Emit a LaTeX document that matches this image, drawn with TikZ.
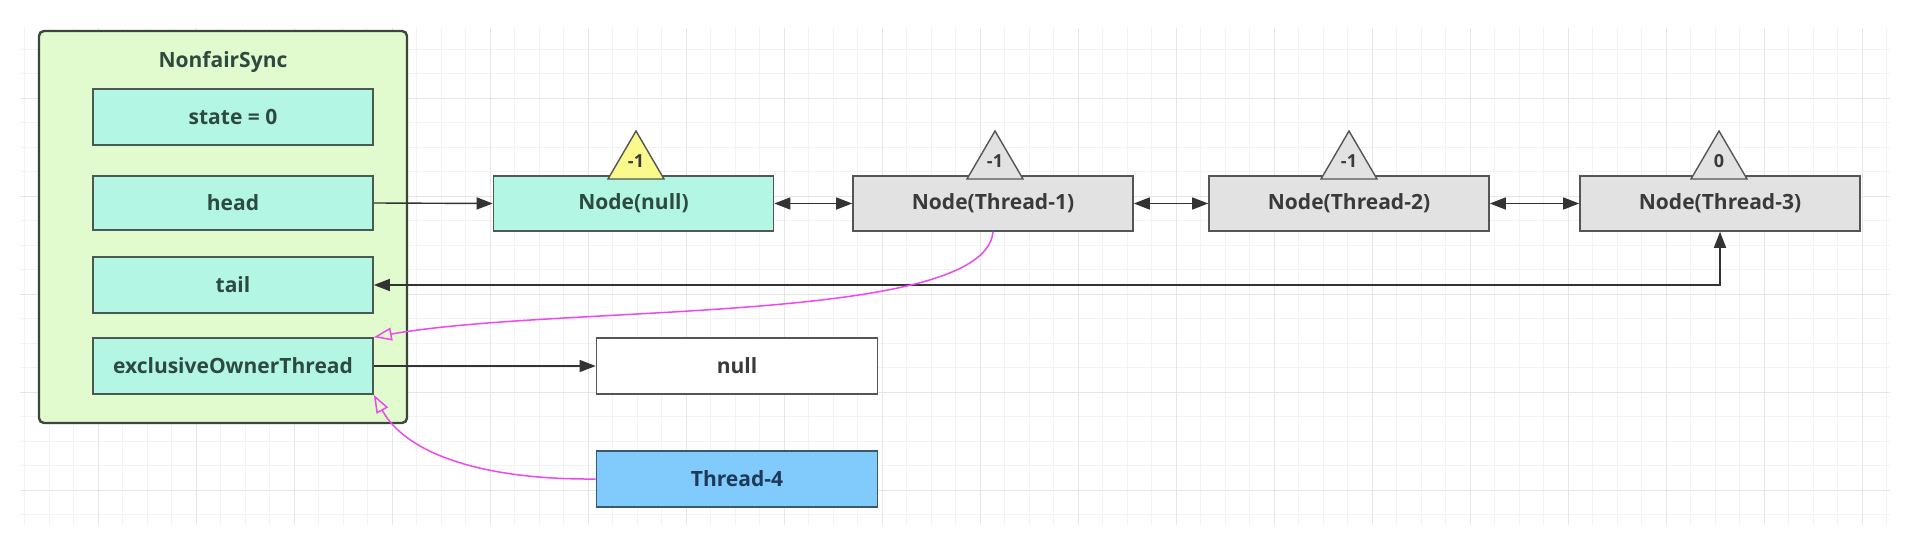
\documentclass[tikz,border=0pt]{standalone}
\usepackage{fontspec}
\setmainfont{Open Sans}
\usetikzlibrary{arrows.meta}
\definecolor{syncfill}{HTML}{E1FBCF}
\definecolor{syncdraw}{HTML}{3A483A}
\definecolor{mint}{HTML}{B4F6E4}
\definecolor{mintdraw}{HTML}{4A5A52}
\definecolor{minttext}{HTML}{2C4A40}
\definecolor{grayfill}{HTML}{E2E2E2}
\definecolor{graydraw}{HTML}{555555}
\definecolor{graytext}{HTML}{3A3A3A}
\definecolor{bluefill}{HTML}{80CAFC}
\definecolor{bluedraw}{HTML}{3A5670}
\definecolor{bluetext}{HTML}{1E3A56}
\definecolor{trigyellow}{HTML}{FAFA8C}
\definecolor{pinkline}{HTML}{EE48EE}
\definecolor{arrowgray}{HTML}{333333}
\definecolor{gridminor}{HTML}{F3F3F3}
\definecolor{gridmajor}{HTML}{E6E6E6}
\tikzset{
  lbl/.style={font=\fontsize{21}{24}\selectfont\bfseries},
  fieldbox/.style={lbl, draw=mintdraw, fill=mint, line width=1.6pt, text=minttext,
    minimum width=280pt, minimum height=55pt, inner sep=0pt},
  qnode/.style={lbl, draw=graydraw, fill=grayfill, line width=1.6pt, text=graytext,
    minimum width=280pt, minimum height=55pt, inner sep=0pt},
  headnode/.style={qnode, fill=mint, text=minttext},
  plainbox/.style={lbl, draw=graydraw, fill=white, line width=1.6pt, text=graytext,
    minimum width=281pt, minimum height=56pt, inner sep=0pt},
  threadbox/.style={lbl, draw=bluedraw, fill=bluefill, line width=1.6pt, text=bluetext,
    minimum width=281pt, minimum height=56pt, inner sep=0pt},
  syncbox/.style={draw=syncdraw, fill=syncfill, line width=2.4pt, rounded corners=5pt,
    minimum width=368pt, minimum height=392pt, inner sep=0pt},
  tri/.style={draw=graydraw, line width=1.4pt, line join=miter},
  trilabel/.style={font=\fontsize{18}{20}\selectfont\bfseries, text=graytext, inner sep=0pt},
  conn/.style={draw=arrowgray, line width=1.4pt, -{Triangle[length=16pt,width=12pt]}},
  dconn/.style={draw=arrowgray, line width=1.4pt, {Triangle[length=16pt,width=12pt]}-{Triangle[length=16pt,width=12pt]}},
  pinkconn/.style={draw=pinkline, line width=1.5pt, -{Triangle[open,length=18pt,width=13pt]}},
}
\begin{document}
\begin{tikzpicture}[x=1pt,y=-1pt]
\useasboundingbox (0,0) rectangle (1930,540);
\fill[white] (0,0) rectangle (1930,540);
% background grid
\draw[gridminor, line width=0.8pt, step=24.5pt] (20,28) grid (1890,525);
\draw[gridmajor, line width=0.9pt, step=98pt] (20,28) grid (1890,525);

% NonfairSync container
\node[syncbox] (sync) at (223,227) {};
\node[lbl, text=minttext] (title) at (223,62) {NonfairSync};
\node[fieldbox, minimum height=56pt] (state) at (233,117) {state = 0};
\node[fieldbox, minimum height=54pt] (head) at (233,203) {head};
\node[fieldbox, minimum height=56pt] (tail) at (233,285) {tail};
\node[fieldbox, minimum height=56pt] (excl) at (233,366) {exclusiveOwnerThread};

% queue nodes
\node[headnode] (n0) at (633.5,203.5) {Node(null)};
\node[qnode] (n1) at (993,203.5) {Node(Thread-1)};
\node[qnode] (n2) at (1349,203.5) {Node(Thread-2)};
\node[qnode] (n3) at (1720,203.5) {Node(Thread-3)};

% waitStatus triangles
\draw[tri, fill=trigyellow] (636,131) -- (664,179) -- (608,179) -- cycle;
\node[trilabel] (w0) at (636,161) {-1};
\draw[tri, fill=grayfill] (995,131) -- (1023,179) -- (967,179) -- cycle;
\node[trilabel] (w1) at (995,161) {-1};
\draw[tri, fill=grayfill] (1349,131) -- (1377,179) -- (1321,179) -- cycle;
\node[trilabel] (w2) at (1349,161) {-1};
\draw[tri, fill=grayfill] (1719,131) -- (1747,179) -- (1691,179) -- cycle;
\node[trilabel] (w3) at (1719,161) {0};

% other boxes
\node[plainbox] (nullv) at (737,366) {null};
\node[threadbox] (t4) at (737,479) {Thread-4};

% connectors
\draw[conn] (head.east) -- (n0.west);
\draw[dconn] (n0.east) -- (n1.west);
\draw[dconn] (n1.east) -- (n2.west);
\draw[dconn] (n2.east) -- (n3.west);
\draw[dconn] (tail.east) -- (n3.south |- tail.east) -- (n3.south);
\draw[conn] (excl.east) -- (nullv.west);

% pink ownership curves
\draw[pinkconn] (n1.south) .. controls (985,325) and (560,304) .. (excl.north east);
\draw[pinkconn] (t4.west) .. controls (478,480) and (405,452) .. (excl.south east);
\end{tikzpicture}
\end{document}
